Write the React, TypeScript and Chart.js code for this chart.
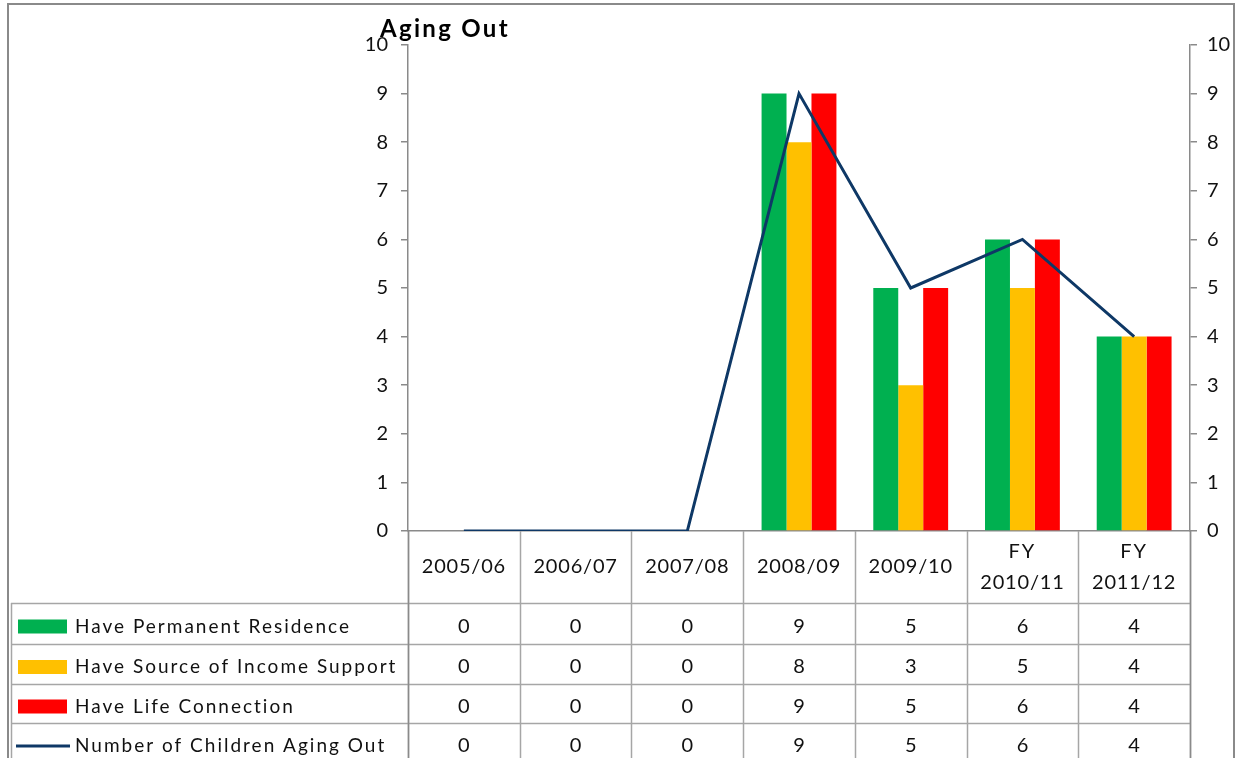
import React, { useEffect, useRef } from "react";
import { Chart, registerables } from "chart.js";

Chart.register(...registerables);

const categories = ["2005/06", "2006/07", "2007/08", "2008/09", "2009/10", "FY 2010/11", "FY 2011/12"];
const headerLabels: string[][] = [["2005/06"], ["2006/07"], ["2007/08"], ["2008/09"], ["2009/10"], ["FY", "2010/11"], ["FY", "2011/12"]];
const permanentResidence = [0, 0, 0, 9, 5, 6, 4];
const incomeSupport = [0, 0, 0, 8, 3, 5, 4];
const lifeConnection = [0, 0, 0, 9, 5, 6, 4];
const agingOut = [0, 0, 0, 9, 5, 6, 4];
const seriesNames = ["Have Permanent Residence", "Have Source of Income Support", "Have Life Connection", "Number of Children Aging Out"];
const yTicks = [0, 1, 2, 3, 4, 5, 6, 7, 8, 9, 10];
const chartTitle = "Aging Out";

const GREEN = "#00B050";
const YELLOW = "#FFC000";
const RED = "#FF0000";
const NAVY = "#0E3866";
const AXIS = "#8a8a8a";
const GRIDT = "#a6a6a6";
const FONT = "Lato, 'Open Sans', sans-serif";

const tablePlugin = {
  id: "dataTable",
  afterDraw(chart: any) {
    const ctx: CanvasRenderingContext2D = chart.ctx;
    const x = chart.scales.x;
    const area = chart.chartArea;
    const n = categories.length;
    const step = x.getPixelForValue(1) - x.getPixelForValue(0);
    const headerBottom = 603;
    const rowsY = [headerBottom, headerBottom + 41, headerBottom + 81, headerBottom + 120, headerBottom + 160];
    ctx.save();
    // outer frame
    ctx.strokeStyle = AXIS;
    ctx.lineWidth = 2;
    ctx.beginPath();
    ctx.moveTo(8, 760);
    ctx.lineTo(8, 4);
    ctx.lineTo(1234, 4);
    ctx.lineTo(1234, 760);
    ctx.stroke();

    // title
    ctx.fillStyle = "#000";
    ctx.font = `bold 24px ${FONT}`;
    (ctx as any).letterSpacing = "2.3px";
    ctx.textAlign = "left";
    ctx.textBaseline = "alphabetic";
    ctx.fillText(chartTitle, 380, 37);
    (ctx as any).letterSpacing = "0px";

    // table grid
    ctx.strokeStyle = GRIDT;
    ctx.lineWidth = 1.5;
    ctx.beginPath();
    for (let i = 0; i <= n; i++) {
      const bx = Math.round(x.getPixelForValue(0) - step / 2 + i * step) + 0.5;
      ctx.moveTo(bx, area.bottom);
      ctx.lineTo(bx, 760);
    }
    for (let r = 0; r < 4; r++) {
      const yy = Math.round(rowsY[r]) + 0.5;
      ctx.moveTo(11, yy);
      ctx.lineTo(area.right, yy);
    }
    ctx.moveTo(11.5, headerBottom);
    ctx.lineTo(11.5, 760);
    ctx.stroke();

    // axis lines extended into table
    ctx.strokeStyle = AXIS;
    ctx.beginPath();
    ctx.moveTo(area.left + 0.5, area.bottom);
    ctx.lineTo(area.left + 0.5, 760);
    ctx.moveTo(area.right + 0.5, area.bottom);
    ctx.lineTo(area.right + 0.5, 760);
    ctx.stroke();

    // header labels
    ctx.fillStyle = "#111";
    ctx.font = `20px ${FONT}`;
    ctx.textAlign = "center";
    ctx.textBaseline = "middle";
    headerLabels.forEach((lines, i) => {
      const cx = x.getPixelForValue(i);
      if (lines.length === 1) {
        (ctx as any).letterSpacing = "0.8px";
        ctx.fillText(lines[0], cx, 567);
      } else {
        (ctx as any).letterSpacing = "2px";
        ctx.fillText(lines[0], cx, 552);
        (ctx as any).letterSpacing = "0.8px";
        ctx.fillText(lines[1], cx, 583);
      }
      (ctx as any).letterSpacing = "0px";
    });

    // data rows
    const rows = [permanentResidence, incomeSupport, lifeConnection, agingOut];
    const colors = [GREEN, YELLOW, RED];
    rows.forEach((vals, r) => {
      const cy = (rowsY[r] + rowsY[r + 1]) / 2 + 3;
      // marker
      if (r < 3) {
        ctx.fillStyle = colors[r];
        ctx.fillRect(18, cy - 7, 49, 14);
      } else {
        ctx.strokeStyle = NAVY;
        ctx.lineWidth = 3;
        ctx.beginPath();
        ctx.moveTo(16, cy);
        ctx.lineTo(70, cy);
        ctx.stroke();
      }
      ctx.fillStyle = "#111";
      ctx.textAlign = "left";
      ctx.font = `19px ${FONT}`;
      (ctx as any).letterSpacing = "2px";
      ctx.fillText(seriesNames[r], 75, cy);
      (ctx as any).letterSpacing = "0px";
      ctx.font = `20px ${FONT}`;
      ctx.textAlign = "center";
      vals.forEach((v, i) => {
        ctx.fillText(String(v), x.getPixelForValue(i), cy);
      });
    });
    ctx.restore();
  },
};

export default function App() {
  const ref = useRef<HTMLCanvasElement | null>(null);
  useEffect(() => {
    document.body.style.margin = "0";
    if (!ref.current) return;
    const yScaleCommon = {
      min: 0,
      max: 10,
      afterBuildTicks: (s: any) => {
        s.ticks = yTicks.map((v) => ({ value: v }));
      },
      grid: { drawOnChartArea: false, drawTicks: true, tickLength: 7, color: AXIS, lineWidth: 1.5 },
      border: { display: true, color: AXIS, width: 1.5 },
    };
    const chart = new Chart(ref.current, {
      type: "bar",
      data: {
        labels: categories,
        datasets: [
          { type: "line", label: seriesNames[3], data: agingOut, borderColor: NAVY, backgroundColor: NAVY, borderWidth: 3, pointRadius: 0, tension: 0, order: 0, yAxisID: "y" } as any,
          { label: seriesNames[0], data: permanentResidence, backgroundColor: GREEN, categoryPercentage: 0.67, barPercentage: 1, order: 1, yAxisID: "y" },
          { label: seriesNames[1], data: incomeSupport, backgroundColor: YELLOW, categoryPercentage: 0.67, barPercentage: 1, order: 1, yAxisID: "y" },
          { label: seriesNames[2], data: lifeConnection, backgroundColor: RED, categoryPercentage: 0.67, barPercentage: 1, order: 1, yAxisID: "y" },
        ],
      },
      options: {
        responsive: false,
        animation: false,
        layout: { padding: { top: 45, left: 0, right: 0, bottom: 0 } },
        plugins: { legend: { display: false }, tooltip: { enabled: false }, title: { display: false } },
        scales: {
          x: {
            grid: { display: false },
            ticks: { display: false },
            border: { display: true, color: AXIS, width: 1.5 },
            afterFit: (s: any) => {
              s.height = 758 - 531;
            },
          },
          y: {
            ...yScaleCommon,
            position: "left",
            ticks: { padding: 13, color: "#111", font: { family: FONT, size: 20 } },
            afterFit: (s: any) => {
              s.width = 408;
            },
          },
          y2: {
            ...yScaleCommon,
            position: "right",
            ticks: { padding: 10, color: "#111", font: { family: FONT, size: 20 } },
            afterFit: (s: any) => {
              s.width = 52;
            },
          },
        } as any,
      },
      plugins: [tablePlugin],
    });
    return () => chart.destroy();
  }, []);
  return (
    <div style={{ position: "absolute", left: 0, top: 0, width: 1242, height: 758, background: "#fff" }}>
      <canvas ref={ref} width={1242} height={758} style={{ display: "block" }} />
    </div>
  );
}
